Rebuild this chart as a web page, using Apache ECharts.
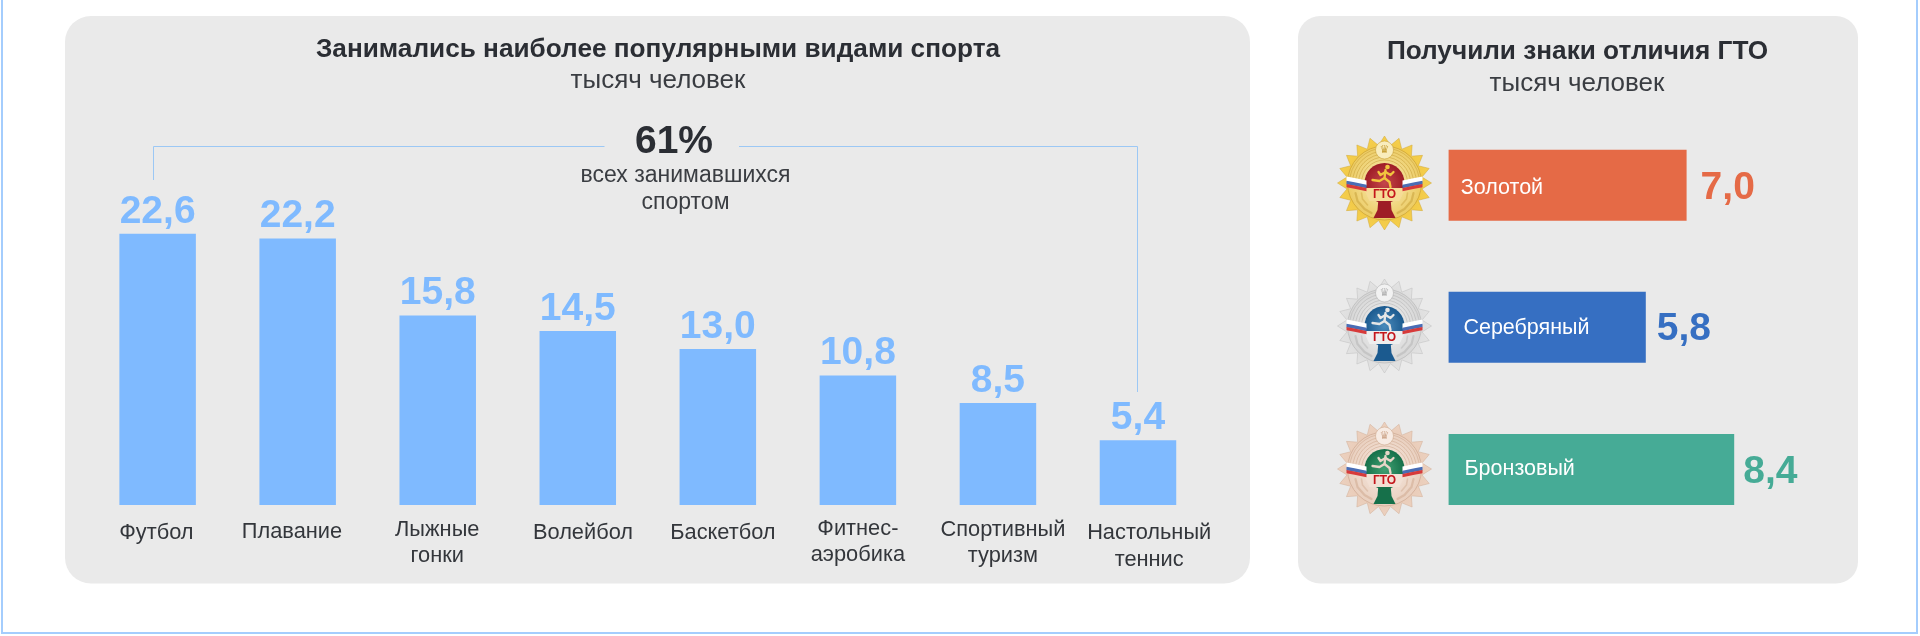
<!DOCTYPE html>
<html>
<head>
<meta charset="utf-8">
<style>html,body{margin:0;padding:0;background:#fff}#c{width:1920px;height:636px}</style>
<script src="https://cdn.jsdelivr.net/npm/echarts@6/dist/echarts.min.js"></script>
</head>
<body>
<div id="c"></div>
<script>
const sports = ['Футбол','Плавание','Лыжные\nгонки','Волейбол','Баскетбол','Фитнес-\nаэробика','Спортивный\nтуризм','Настольный\nтеннис'];
const sportValues = [22.6,22.2,15.8,14.5,13.0,10.8,8.5,5.4];
const badges = ['Золотой','Серебряный','Бронзовый'];
const badgeValues = [7.0,5.8,8.4];
const badgeColors = ['#e56a46','#366fc2','#46ab96'];
const titleLeft = 'Занимались наиболее популярными видами спорта';
const titleRight = 'Получили знаки отличия ГТО';
const subtitle = 'тысяч человек';

const FONT = '"Liberation Sans", Arial, sans-serif';
const INK = '#2b2e34';
const SOFT = '#3a3d42';
const comma = v => v.toFixed(1).replace('.', ',');

// per-category nudges of the axis labels
const labelDx = [-1.2,-5.7,-0.5,5.2,5.1,0,5,11.2];
const labelDy = [4.3,3,0.8,4.3,4.3,0,1,4.5];
const catData = sports.map((s,i)=>{
  const dx=labelDx[i];
  return {value:s,textStyle:{padding:[labelDy[i],dx<0?-2*dx:0,0,dx>0?2*dx:0]}};
});
// nudges of the labels on the right-hand bars
const valueGap = [14,11,9];
const valueDy = [2.6,2,3];
const nameGap = [12.2,14.8,15.9];
const nameDy = [3,1,0];

function star(n,R,r){
  const pts=[];
  for(let i=0;i<n*2;i++){
    const a=-Math.PI/2+i*Math.PI/n, q=i%2?r:R;
    pts.push([q*Math.cos(a),q*Math.sin(a)]);
  }
  return pts;
}
function radial(c0,c1){return {type:'radial',x:0.5,y:0.5,r:0.5,colorStops:[{offset:0,color:c0},{offset:1,color:c1}]};}

function medal(cx,cy,p){
  const ch=[];
  ch.push({type:'polygon',shape:{points:star(20,47,38)},style:{fill:radial(p.star1,p.star0),stroke:p.edge,lineWidth:0.5}});
  ch.push({type:'circle',shape:{r:37},style:{fill:radial(p.disc1,p.disc0),stroke:p.edge,lineWidth:0.8}});
  [35,32,29,26,23].forEach(r=>ch.push({type:'arc',shape:{r,startAngle:Math.PI*1.0,endAngle:Math.PI*2.0},style:{stroke:p.ring,fill:null,lineWidth:0.8,opacity:0.7}}));
  // laurel branches in the lower half
  [-1,1].forEach(s=>{
    ch.push({type:'polyline',shape:{points:[[s*29,10],[s*27,18],[s*20,26],[s*13,30]]},style:{stroke:p.ring,fill:null,lineWidth:2.2,lineCap:'round',lineJoin:'round',opacity:0.55}});
    ch.push({type:'polyline',shape:{points:[[s*23,10],[s*22,16],[s*17,22]]},style:{stroke:p.ring,fill:null,lineWidth:1.6,lineCap:'round',lineJoin:'round',opacity:0.45}});
  });
  ch.push({type:'circle',shape:{cx:0,cy:-33,r:9},style:{fill:p.disc1,stroke:p.ring,lineWidth:0.6}});
  ch.push({type:'text',style:{x:0,y:-33,text:'♛',fill:p.ring,font:'11px "DejaVu Sans"',align:'center',verticalAlign:'middle'}});
  ch.push({type:'circle',shape:{cx:0,cy:0,r:20},style:{fill:radial(p.core1,p.core0)}});
  // stem
  ch.push({type:'polygon',shape:{points:[[-6,15],[6,15],[7,27],[11,35],[-11,35],[-7,27]]},style:{fill:p.core0}});
  // band with the letters
  ch.push({type:'polygon',shape:{points:[[-21,5],[21,5],[15,18],[-15,18]]},style:{fill:p.band}});
  ch.push({type:'text',style:{x:0,y:12,text:'ГТО',fill:'#c4161c',font:'bold 12px '+FONT,align:'center',verticalAlign:'middle'}});
  // ribbons
  [-1,1].forEach(s=>{
    [['#ffffff',-6.5,5],['#4a6db5',-2.2,3.4],['#d73a3a',0.9,3.4]].forEach(([c,y,h])=>{
      ch.push({type:'polygon',shape:{points:[[s*38,y],[s*30,y+1.5],[s*18,y+4],[s*18,y+4+h],[s*30,y+1.5+h],[s*38,y+h]]},style:{fill:c}});
    });
  });
  // runner
  const runner=[[[1,-13],[0,-5],[-5,-2],[-12,-3]],[[0,-5],[5,-1],[6,4]],[[1,-11],[-4,-8],[-6,-11]],[[1,-11],[6,-8],[9,-11]]];
  runner.forEach(pts=>ch.push({type:'polyline',shape:{points:pts},style:{stroke:p.runner,fill:null,lineWidth:2.3,lineCap:'round',lineJoin:'round'}}));
  ch.push({type:'circle',shape:{cx:3,cy:-16,r:2.3},style:{fill:p.runner}});
  return {type:'group',x:cx,y:cy,children:ch};
}

const medalStyles=[
 {star0:'#f6cf4c',star1:'#e3b93c',edge:'#cfa636',disc0:'#eccb62',disc1:'#f9edbd',ring:'#c9a23c',core0:'#9e1c26',core1:'#c4474a',band:'#f6dc96',runner:'#f1c63f'},
 {star0:'#e3e3e3',star1:'#cfcfcf',edge:'#bcbcbc',disc0:'#d6d6d6',disc1:'#f2f2f2',ring:'#b4b4b4',core0:'#1b5a8f',core1:'#4a8abb',band:'#eeeeee',runner:'#e6e6e6'},
 {star0:'#ecd1bf',star1:'#e2bfa9',edge:'#d0ac95',disc0:'#e9cfbe',disc1:'#f7ebe3',ring:'#cfa98f',core0:'#16704a',core1:'#40a072',band:'#f2e0d4',runner:'#e8d6c8'}
];

const graphic=[
 {type:'rect',z:-10,shape:{x:65,y:16,width:1185,height:567.5,r:26},style:{fill:'#eaeaea'}},
 {type:'rect',z:-10,shape:{x:1298,y:16,width:560,height:567.5,r:22},style:{fill:'#eaeaea'}},
 {type:'polyline',shape:{points:[[2,0],[2,633],[1917,633],[1917,0]]},style:{stroke:'#a4cdfd',fill:null,lineWidth:2}},
 {type:'polyline',shape:{points:[[153.5,180],[153.5,146.5],[604.5,146.5]]},style:{stroke:'#9cc8f5',fill:null,lineWidth:1}},
 {type:'polyline',shape:{points:[[739,146.5],[1137.5,146.5],[1137.5,392]]},style:{stroke:'#9cc8f5',fill:null,lineWidth:1}},
 {type:'text',style:{x:674,y:142.5,text:'61%',fill:INK,font:'bold 39px '+FONT,align:'center',verticalAlign:'middle'}},
 {type:'text',style:{x:685.5,y:175.5,text:'всех занимавшихся',fill:SOFT,font:'23px '+FONT,align:'center',verticalAlign:'middle'}},
 {type:'text',style:{x:685.5,y:202.5,text:'спортом',fill:SOFT,font:'23px '+FONT,align:'center',verticalAlign:'middle'}},
 medal(1384.5,183,medalStyles[0]),
 medal(1384.5,326,medalStyles[1]),
 medal(1384.5,469,medalStyles[2])
];

const option={
 animation:false,
 backgroundColor:'#ffffff',
 textStyle:{fontFamily:FONT},
 title:[
  {text:titleLeft,left:658,top:36.5,padding:0,textAlign:'center',textStyle:{fontFamily:FONT,fontWeight:'bold',fontSize:26.2,color:INK}},
  {text:subtitle,left:658,top:68,padding:0,textAlign:'center',textStyle:{fontFamily:FONT,fontWeight:'normal',fontSize:26,color:SOFT}},
  {text:titleRight,left:1577.5,top:39,padding:0,textAlign:'center',textStyle:{fontFamily:FONT,fontWeight:'bold',fontSize:26.2,color:INK}},
  {text:subtitle,left:1577,top:71,padding:0,textAlign:'center',textStyle:{fontFamily:FONT,fontWeight:'normal',fontSize:26,color:SOFT}}
 ],
 grid:[
  {left:87.6,width:1120.4,top:205,height:300},
  {left:1448.6,width:340,top:114.1,height:426.5}
 ],
 xAxis:[
  {gridIndex:0,type:'category',data:catData,axisLine:{show:false},axisTick:{show:false},
   axisLabel:{interval:0,margin:10.5,fontSize:21.8,lineHeight:26.6,color:'#33363b',fontFamily:FONT,align:'center',verticalAlign:'top'}},
  {gridIndex:1,type:'value',min:0,max:10,show:false}
 ],
 yAxis:[
  {gridIndex:0,type:'value',min:0,max:25,show:false},
  {gridIndex:1,type:'category',inverse:true,data:badges,axisLine:{show:false},axisTick:{show:false},axisLabel:{show:false}}
 ],
 series:[
  {name:'Виды спорта',type:'bar',xAxisIndex:0,yAxisIndex:0,data:sportValues,barWidth:76.5,itemStyle:{color:'#7fbaff'},
   label:{show:true,position:'top',distance:2.5,formatter:p=>comma(p.value),fontFamily:FONT,fontWeight:'bold',fontSize:39,color:'#7fbaff'}},
  {name:'Знаки ГТО',type:'bar',xAxisIndex:1,yAxisIndex:1,barWidth:71,barGap:'-100%',
   data:badgeValues.map((v,i)=>({value:v,itemStyle:{color:badgeColors[i]},label:{color:badgeColors[i],distance:valueGap[i],offset:[0,valueDy[i]]}})),
   label:{show:true,position:'right',formatter:p=>comma(p.value),fontFamily:FONT,fontWeight:'bold',fontSize:39}},
  {name:'Названия',type:'bar',xAxisIndex:1,yAxisIndex:1,barWidth:71,barGap:'-100%',
   data:badgeValues.map((v,i)=>({value:v,label:{distance:nameGap[i],offset:[0,nameDy[i]]}})),itemStyle:{color:'rgba(0,0,0,0)'},z:5,
   label:{show:true,position:'insideLeft',formatter:p=>badges[p.dataIndex],fontFamily:FONT,fontSize:21.5,color:'#ffffff'}}
 ],
 graphic
};
const chart=echarts.init(document.getElementById('c'),null,{renderer:'canvas'});
chart.setOption(option);
</script>
</body>
</html>
